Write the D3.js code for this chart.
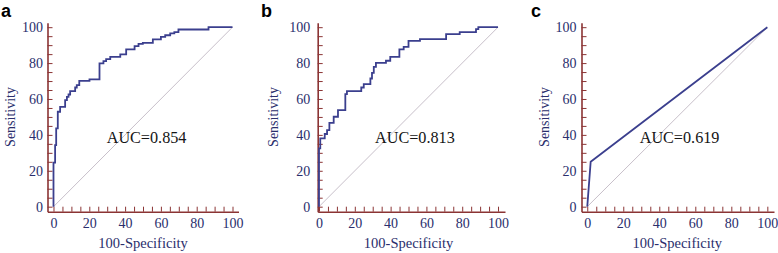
<!DOCTYPE html>
<html>
<head>
<meta charset="utf-8">
<script src="https://cdn.jsdelivr.net/npm/d3@7"></script>
<style>
  body { margin: 0; background: #fff; }
  svg { display: block; }
</style>
</head>
<body>
<script>
// ROC curves (100-Specificity vs Sensitivity)
const panelLabels = ["a", "b", "c"];
const aucLabels = ["AUC=0.854", "AUC=0.813", "AUC=0.619"];

const fprA = [0, 0, 0.9, 1.5, 2.4, 3.7, 6.5, 7.5, 8.4, 9.3, 12.1, 13, 14.4, 20.1, 25.7, 27.9, 29.4, 31.7, 37.3, 40.6, 45.3, 47.5, 49.9, 55.5, 60, 62.4, 65.2, 67.5, 69.8, 86.6, 100];
const tprA = [0, 24.5, 34.3, 43.6, 52.9, 55.6, 59.4, 61.2, 62.5, 64.4, 66.4, 67.7, 70.1, 70.9, 79.8, 81.1, 82.2, 83.5, 84.8, 87.6, 89.4, 90.7, 91.3, 93.2, 94.6, 95.5, 96.5, 97.3, 98.7, 100, 100];

const fprB = [0, 0, 0.7, 3.2, 4.5, 5.8, 8.2, 10.6, 14.7, 15.6, 23.6, 25, 28.7, 29.6, 30.6, 31.8, 37.4, 39.8, 44.9, 47.3, 50, 56.4, 71, 78.6, 87.7, 89, 100];
const tprB = [0, 32.5, 38, 40.5, 42.7, 46.7, 50.1, 53.8, 62.7, 64.4, 66.4, 68.3, 71.4, 74.6, 77.9, 80.1, 81.3, 83.5, 87.6, 89, 92.4, 93.4, 96.1, 97.3, 98.9, 100, 100];

const fprC = [0, 1.9, 100];
const tprC = [0, 25, 100];

const majorTicks = [0, 20, 40, 60, 80, 100];
const minorTicks = d3.range(0, 101, 5);

const serif = "'Liberation Serif', 'Times New Roman', serif";
const navy = "#2a2e6c",
    curveColor = "#3b3f8e",
    axisColor = "#8b3434",
    diagColor = "#c8c0ca";

// layout of each panel (axis positions differ slightly between the three)
const panels = [
    { fpr: fprA, tpr: tprA, step: true, x0: -3.35, x1: 103.35, left: 47.5, right: 238.5, labGap: 4.4, sensX: 14.5, letterX: 1, aucX: 106.7 },
    { fpr: fprB, tpr: tprB, step: true, x0: -0.73, x1: 103.9, left: 317.7, right: 505, labGap: 7.5, sensX: 278, letterX: 261, aucX: 375 },
    { fpr: fprC, tpr: tprC, step: false, x0: -3.2, x1: 103.7, left: 581.5, right: 774, labGap: 5, sensX: 549, letterX: 531, aucX: 639.7 }
];

const svg = d3.select("body").append("svg")
    .attr("width", 778)
    .attr("height", 253);

const y = d3.scaleLinear().domain([-2.8, 102.5]).range([211.7, 22.7]);

panels.forEach((p, i) => {
    const x = d3.scaleLinear().domain([p.x0, p.x1]).range([p.left, p.right]);
    const g = svg.append("g");
    const bottom = y.range()[0];

    // diagonal reference line
    g.append("line")
        .attr("x1", x(0)).attr("y1", y(0))
        .attr("x2", x(100)).attr("y2", y(100))
        .attr("stroke", diagColor)
        .attr("stroke-width", 1);

    // minor ticks + axis lines
    const xt = g.append("g")
        .attr("transform", `translate(0,${bottom})`)
        .call(d3.axisBottom(x).tickValues(minorTicks).tickSize(-5).tickSizeOuter(0).tickFormat(""));
    const yt = g.append("g")
        .attr("transform", `translate(${p.left},0)`)
        .call(d3.axisLeft(y).tickValues(minorTicks).tickSize(-5).tickSizeOuter(0).tickFormat(""));
    [xt, yt].forEach(a => {
        a.select(".domain").attr("stroke", axisColor).attr("stroke-width", 1.6);
        a.selectAll(".tick line").attr("stroke", axisColor).attr("stroke-width", 1);
    });

    // tick labels
    const xl = g.append("g")
        .attr("transform", `translate(0,${bottom})`)
        .call(d3.axisBottom(x).tickValues(majorTicks).tickSize(0).tickPadding(6.7));
    const yl = g.append("g")
        .attr("transform", `translate(${p.left},0)`)
        .call(d3.axisLeft(y).tickValues(majorTicks).tickSize(0).tickPadding(p.labGap));
    [xl, yl].forEach(a => {
        a.select(".domain").remove();
        a.selectAll("text")
            .attr("fill", navy)
            .style("font-family", serif)
            .style("font-size", "14px");
    });

    // ROC curve
    const line = d3.line()
        .x((d, k) => x(p.fpr[k]))
        .y((d, k) => y(p.tpr[k]))
        .curve(p.step ? d3.curveStepAfter : d3.curveLinear);
    g.append("path")
        .attr("d", line(p.fpr))
        .attr("fill", "none")
        .attr("stroke", curveColor)
        .attr("stroke-width", 1.8);

    // titles
    g.append("text")
        .attr("x", (x(0) + x(100)) / 2)
        .attr("y", 248)
        .attr("text-anchor", "middle")
        .attr("fill", navy)
        .style("font-family", serif)
        .style("font-size", "14.5px")
        .text("100-Specificity");

    g.append("text")
        .attr("transform", `translate(${p.sensX},${(y(0) + y(100)) / 2}) rotate(-90)`)
        .attr("text-anchor", "middle")
        .attr("fill", navy)
        .style("font-family", serif)
        .style("font-size", "14px")
        .text("Sensitivity");

    g.append("text")
        .attr("x", p.aucX)
        .attr("y", 142.7)
        .attr("fill", "#151515")
        .style("font-family", serif)
        .style("font-size", "16.2px")
        .text(aucLabels[i]);

    g.append("text")
        .attr("x", p.letterX)
        .attr("y", 16.5)
        .attr("fill", "#000")
        .style("font-family", "'Liberation Sans', Arial, sans-serif")
        .style("font-weight", "bold")
        .style("font-size", "18px")
        .text(panelLabels[i]);
});
</script>
</body>
</html>
